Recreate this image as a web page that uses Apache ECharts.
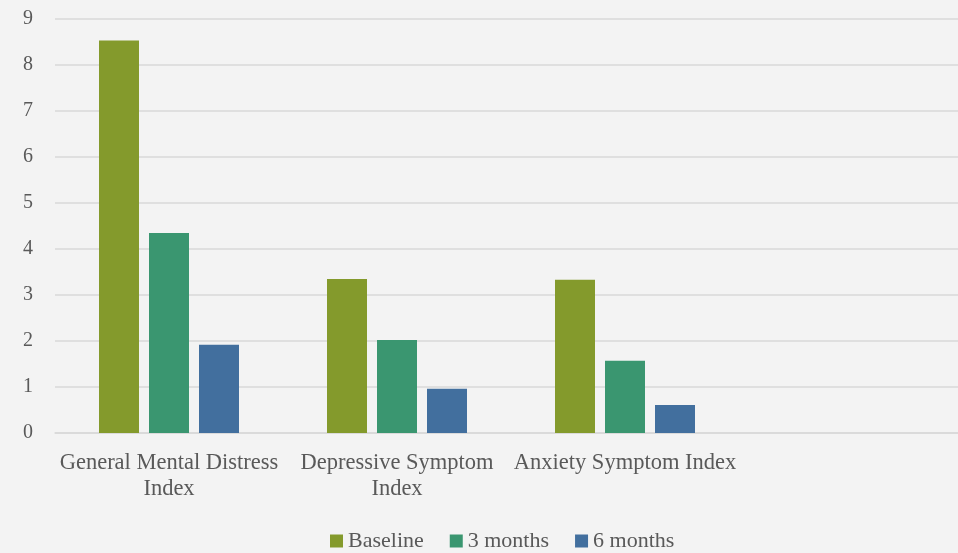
<!DOCTYPE html>
<html>
<head>
<meta charset="utf-8">
<script src="https://cdn.jsdelivr.net/npm/echarts@6/dist/echarts.min.js"></script>
<style>
  html, body { margin: 0; padding: 0; background: #f3f3f3; overflow: hidden; }
  /* chart is a bit wider than the window: the original plot runs past the right edge */
  #chart { width: 967px; height: 553px; }
</style>
</head>
<body>
<div id="chart"></div>
<script>
// categories (4th slot is empty in the original)
const categories = ['General Mental Distress\nIndex', 'Depressive Symptom\nIndex', 'Anxiety Symptom Index', ''];
const seriesNames = ['Baseline', '3 months', '6 months'];
const baseline = [8.53, 3.35, 3.33, null];
const threeMonths = [4.35, 2.02, 1.57, null];
const sixMonths = [1.92, 0.96, 0.61, null];
const yTicks = [0, 1, 2, 3, 4, 5, 6, 7, 8, 9];

const colors = ['#849a2c', '#3a9670', '#426f9e'];
const textColor = '#595959';
const font = '"Liberation Serif", "DejaVu Serif", serif';

const chart = echarts.init(document.getElementById('chart'));

const makeSeries = (name, data, i) => ({
  name: name,
  type: 'bar',
  data: data,
  barWidth: 40,
  barGap: '25%',
  itemStyle: { color: colors[i] },
  emphasis: { disabled: true }
});

chart.setOption({
  backgroundColor: '#f3f3f3',
  animation: false,
  textStyle: { fontFamily: font },
  grid: {
    left: 55,
    top: 19,
    right: 0,
    height: 414,
    containLabel: false
  },
  legend: {
    data: seriesNames,
    left: 330,
    top: 530,
    padding: 0,
    itemWidth: 13,
    itemHeight: 13,
    itemGap: 26,
    icon: 'rect',
    textStyle: { fontFamily: font, fontSize: 22, color: textColor }
  },
  xAxis: {
    type: 'category',
    data: categories,
    axisLine: { show: true, lineStyle: { color: '#d9d9d9', width: 1.5 } },
    axisTick: { show: false },
    axisLabel: {
      interval: 0,
      margin: 17,
      fontFamily: font,
      fontSize: 22.5,
      lineHeight: 26,
      color: textColor
    }
  },
  yAxis: {
    type: 'value',
    min: yTicks[0],
    max: yTicks[yTicks.length - 1],
    interval: 1,
    axisLine: { show: false },
    axisTick: { show: false },
    splitLine: { lineStyle: { color: '#d9d9d9', width: 1.5 } },
    axisLabel: {
      margin: 22,
      fontFamily: font,
      fontSize: 20,
      color: textColor
    }
  },
  series: [
    makeSeries(seriesNames[0], baseline, 0),
    makeSeries(seriesNames[1], threeMonths, 1),
    makeSeries(seriesNames[2], sixMonths, 2)
  ]
});
</script>
</body>
</html>
